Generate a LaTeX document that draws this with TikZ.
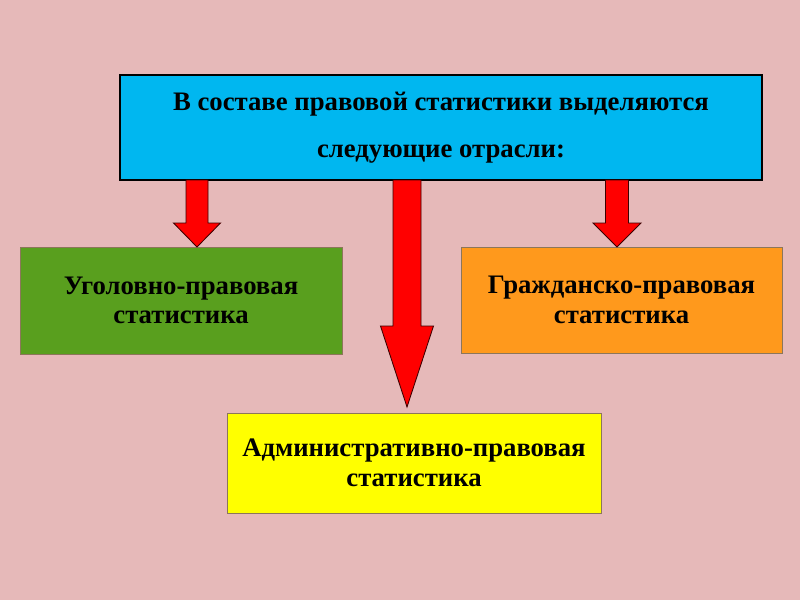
\documentclass[tikz,border=0pt]{standalone}
\usepackage{fontspec}
\setmainfont{Liberation Serif}
\usetikzlibrary{calc}

\definecolor{slidebg}{RGB}{230,185,185}
\definecolor{headcyan}{RGB}{0,183,240}
\definecolor{crimegreen}{RGB}{89,159,30}
\definecolor{civilorange}{RGB}{255,153,28}
\definecolor{adminyellow}{RGB}{255,255,0}
\definecolor{arrowred}{RGB}{255,0,0}
\definecolor{arrowline}{RGB}{60,0,0}
\definecolor{boxline}{RGB}{140,118,90}

% block arrow: start, tip, shaft half width, head half width, head length
\newcommand{\blockarrow}[5]{%
	\draw[redarrow] ($(#1)+(-#3,0)$) -- ($(#2)+(-#3,-#5)$) -- ($(#2)+(-#4,-#5)$) -- (#2)
		-- ($(#2)+(#4,-#5)$) -- ($(#2)+(#3,-#5)$) -- ($(#1)+(#3,0)$) -- cycle;}

\begin{document}
\begin{tikzpicture}[x=0.025cm,y=-0.025cm,
		box/.style={draw=boxline,line width=0.6pt,align=center,inner sep=0pt,
			font=\bfseries\fontsize{19}{21}\selectfont},
		redarrow/.style={fill=arrowred,draw=arrowline,line width=0.6pt}]
		\fill[slidebg] (0,0) rectangle (800,600);
		
		\node[box,draw=black,line width=1pt,fill=headcyan,minimum width=16.05cm,minimum height=2.625cm,
			font=\bfseries\fontsize{19}{33.4}\selectfont] (head) at (441,127.5)
			{В составе правовой статистики выделяются\\следующие отрасли:};
		
		\node[box,fill=crimegreen,minimum width=8.05cm,minimum height=2.675cm] (crime) at (181,300.5)
			{Уголовно-правовая\\статистика};
		\node[box,fill=civilorange,minimum width=8.025cm,minimum height=2.65cm] (civil) at (621.5,300)
			{Гражданско-правовая\\статистика};
		\node[box,fill=adminyellow,minimum width=9.35cm,minimum height=2.5cm] (admin) at (414,463)
			{Административно-правовая\\статистика};
		
		\coordinate (s1) at (197,180);
		\coordinate (t1) at (197,247);
		\coordinate (s2) at (407,180);
		\coordinate (t2) at (407,407);
		\coordinate (s3) at (617,180);
		\coordinate (t3) at (617,247);
		
		\blockarrow{s1}{t1}{11}{23.5}{24}
		\blockarrow{s2}{t2}{14}{26.5}{81}
		\blockarrow{s3}{t3}{11.5}{24}{24}
		%\blockarrow{s2}{admin.north}{14}{26.5}{81}
		
	\end{tikzpicture}
\end{document}
